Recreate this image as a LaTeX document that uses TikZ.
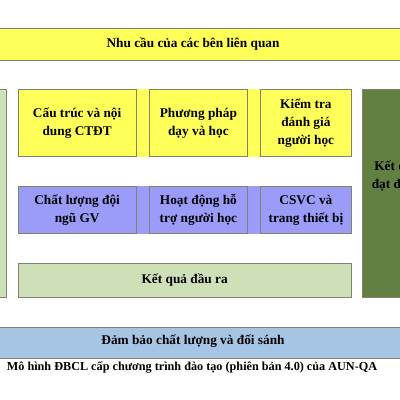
\documentclass[tikz,border=0pt]{standalone}
\usepackage{fontspec}
\setmainfont{Liberation Serif}
\definecolor{boxyellow}{RGB}{255,255,90}
\definecolor{boxblue}{RGB}{155,155,250}
\definecolor{lightgreen}{RGB}{206,224,184}
\definecolor{darkgreen}{RGB}{98,128,66}
\definecolor{bandblue}{RGB}{166,196,228}
\definecolor{edgegray}{RGB}{130,130,110}
\begin{document}
\begin{tikzpicture}[x=1pt,y=-1pt,
  box/.style={draw=edgegray, line width=0.8pt, inner sep=0pt, anchor=north west, align=center,
    font=\fontsize{13.3}{18}\selectfont\bfseries},
  gapband/.style={inner sep=0pt, anchor=north west},
  lbl/.style={font=\fontsize{13.3}{18}\selectfont\bfseries, align=center}]
\useasboundingbox (0,0) rectangle (400,400);
\clip (0,0) rectangle (400,400);
\fill[white] (0,0) rectangle (400,400);
% top band
\node[box, fill=boxyellow, minimum width=430pt, minimum height=32pt] (needs) at (-15,28) {};
\node[lbl] (needst) at (193,44) {Nhu cầu của các bên liên quan};
% left light green band
\node[box, fill=lightgreen, minimum width=36pt, minimum height=208pt] (left) at (-30,89) {};
% right dark green band
\node[box, fill=darkgreen, minimum width=70pt, minimum height=208pt] (right) at (362,89) {};
\node[lbl] (rightt) at (397,176) {Kết quả\\đạt được};
% gap bands row 1
\node[gapband, fill=boxyellow, minimum width=13pt, minimum height=68pt] (g1) at (136,89) {};
\node[gapband, fill=boxyellow, minimum width=13pt, minimum height=68pt] (g2) at (247,89) {};
% gap bands row 2
\node[gapband, fill=boxblue, minimum width=13pt, minimum height=48pt] (g3) at (136,186) {};
\node[gapband, fill=boxblue, minimum width=13pt, minimum height=48pt] (g4) at (247,186) {};
% row 1
\node[box, fill=boxyellow, minimum width=118.5pt, minimum height=67pt] (a1) at (17.5,89) {};
\node[lbl] at (a1.center) {Cấu trúc và nội\\dung CTĐT};
\node[box, fill=boxyellow, minimum width=98pt, minimum height=67pt] (a2) at (149,89) {};
\node[lbl] at (a2.center) {Phương pháp\\dạy và học};
\node[box, fill=boxyellow, minimum width=91pt, minimum height=67pt] (a3) at (260,89) {};
\node[lbl] at (a3.center) {Kiểm tra\\đánh giá\\người học};
% row 2
\node[box, fill=boxblue, minimum width=118.5pt, minimum height=47pt] (b1) at (17.5,186) {};
\node[lbl] at (b1.center) {Chất lượng đội\\ngũ GV};
\node[box, fill=boxblue, minimum width=98pt, minimum height=47pt] (b2) at (149,186) {};
\node[lbl] at (b2.center) {Hoạt động hỗ\\trợ người học};
\node[box, fill=boxblue, minimum width=91pt, minimum height=47pt] (b3) at (260,186) {};
\node[lbl] at (b3.center) {CSVC và\\trang thiết bị};
% outcomes
\node[box, fill=lightgreen, minimum width=333.5pt, minimum height=34pt] (c1) at (17.5,263) {};
\node[lbl] at (c1.center) {Kết quả đầu ra};
% bottom band
\node[box, fill=bandblue, minimum width=430pt, minimum height=31pt] (qa) at (-15,327) {};
\node[lbl] (qat) at (193,341.5) {Đảm bảo chất lượng và đối sánh};
% caption
\node[font=\fontsize{12.2}{14}\selectfont\bfseries] (cap) at (192,367.5) {Mô hình ĐBCL cấp chương trình đào tạo (phiên bản 4.0) của AUN-QA};
\end{tikzpicture}
\end{document}
